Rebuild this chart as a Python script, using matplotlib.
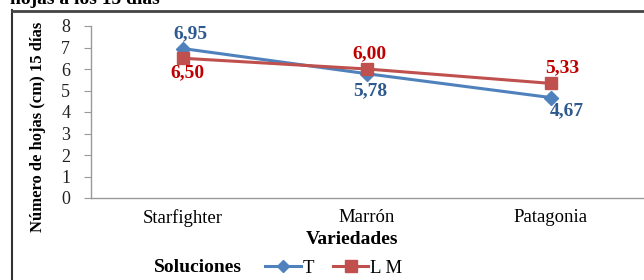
import matplotlib
matplotlib.use("Agg")
import matplotlib.pyplot as plt
from matplotlib.lines import Line2D

categories = ["Starfighter", "Marrón", "Patagonia"]
serie_T = [6.95, 5.78, 4.67]
serie_LM = [6.50, 6.00, 5.33]
labels_T = ["6,95", "5,78", "4,67"]
labels_LM = ["6,50", "6,00", "5,33"]
yticks = [0, 1, 2, 3, 4, 5, 6, 7, 8]

plt.rcParams['font.family'] = ['Liberation Serif', 'DejaVu Serif']

W, H = 644, 280
fig = plt.figure(figsize=(W/100, H/100), dpi=100)
ax = fig.add_axes([91/W, 1-198/H, (643-91)/W, (198-26)/H])

blue = '#4F81BD'
blue_txt = '#2F5A8F'
red = '#C0504D'
red_txt = '#C00000'

x = list(range(len(categories)))
ax.plot(x, serie_T, color=blue, lw=2.2, marker='D', ms=7, zorder=3)
ax.plot(x, serie_LM, color=red, lw=2.2, marker='s', ms=8.5, zorder=3)

ax.set_xlim(-0.5, 2.5)
ax.set_ylim(0, 8)
ax.set_yticks(yticks)
ax.set_yticklabels([str(v) for v in yticks], fontsize=13)
ax.set_xticks(x)
ax.set_xticklabels(categories, fontsize=13.5)
ax.tick_params(axis='x', length=0, pad=8)
ax.tick_params(axis='y', length=5, pad=10, colors='#222222')
ax.tick_params(axis='y', color='#999999')
for s in ['top', 'right']:
    ax.spines[s].set_visible(False)
for s in ['left', 'bottom']:
    ax.spines[s].set_color('#999999')
    ax.spines[s].set_linewidth(1.0)

# data labels
offs_T = [(5, 11), (2, -12.5), (11.5, -9.5)]
offs_LM = [(3, -10.5), (2, 11), (8, 11)]
for i in x:
    ax.annotate(labels_T[i], (i, serie_T[i]), xytext=offs_T[i], textcoords='offset points',
                ha='center', va='center', color=blue_txt, fontsize=14, fontweight='bold')
    ax.annotate(labels_LM[i], (i, serie_LM[i]), xytext=offs_LM[i], textcoords='offset points',
                ha='center', va='center', color=red_txt, fontsize=14, fontweight='bold')

fig.text(38/W, 1-127/H, "Número de hojas (cm) 15 días", rotation=90, ha='center', va='center',
         fontsize=12, fontweight='bold')
fig.text(352/W, 1-239/H, "Variedades", ha='center', va='center', fontsize=14, fontweight='bold')

# legend
fig.text(198/W, 1-268/H, "Soluciones", ha='center', va='center', fontsize=14, fontweight='bold')
handles = [Line2D([], [], color=blue, lw=2.2, marker='D', ms=6),
           Line2D([], [], color=red, lw=2.2, marker='s', ms=8)]
leg = fig.legend(handles, ["T", "L M"], loc='center left', bbox_to_anchor=(265/W, 1-268/H),
                 ncol=2, frameon=False, fontsize=13.5, handlelength=1.9, handletextpad=0.1,
                 columnspacing=1.0, borderpad=0, borderaxespad=0)

# cropped title at top
fig.text(10/W, 1+1/H, "hojas a los 15 días", ha='left', va='center', fontsize=14, fontweight='bold')

# outer frame lines
fig.add_artist(Line2D([12/W, 12/W], [0, 1-10/H], color='#333333', lw=1.5, transform=fig.transFigure))
fig.add_artist(Line2D([12/W, 1], [1-10.5/H, 1-10.5/H], color='#444444', lw=2.0, transform=fig.transFigure))

fig.savefig("out.png", dpi=100)
